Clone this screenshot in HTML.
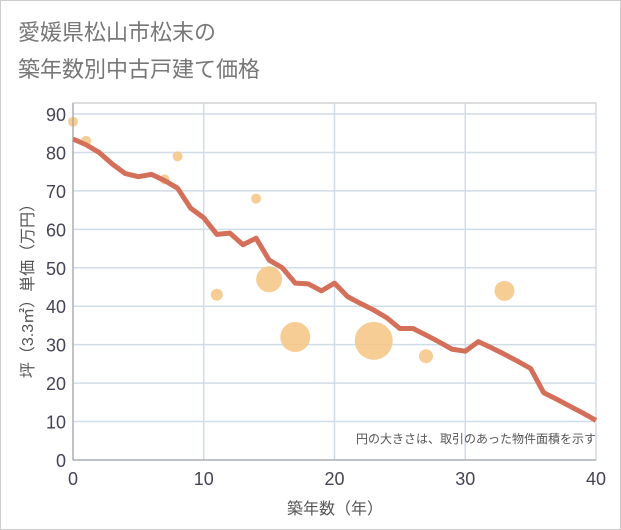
<!DOCTYPE html>
<html><head><meta charset="utf-8"><style>
body{margin:0;background:#fff;}
svg{display:block;font-family:"Liberation Sans","Noto Sans CJK JP",sans-serif;}
</style></head><body>
<svg width="621" height="530" viewBox="0 0 621 530">
<rect x="0.5" y="0.5" width="620" height="529" fill="#fff" stroke="#ccc"/>
<text x="18" y="40" font-size="22" fill="#777">愛媛県松山市松末の</text>
<text x="18" y="77" font-size="22" fill="#777">築年数別中古戸建て価格</text>
<g id="grid"></g>
<g id="bubbles"></g>
<polyline id="line" fill="none" stroke="#d4705a" stroke-width="5" stroke-linejoin="round"/>
<g id="axes"></g>
<text x="596" y="443" font-size="12" fill="#555" text-anchor="end">円の大きさは、取引のあった物件面積を示す</text>
<text x="335" y="514" font-size="16" fill="#555" text-anchor="middle">築年数（年）</text>
<text transform="translate(33,287) rotate(-90)" font-size="16" fill="#555" text-anchor="middle">坪（3.3㎡）単価（万円）</text>
</svg>
<script>
const lineYears=[0,1,2,3,4,5,6,7,8,9,10,11,12,13,14,15,16,17,18,19,20,21,22,23,24,25,26,27,28,29,30,31,32,33,34,35,36,37,38,39,40];
const lineValues=[83.5,82,80,77,74.5,73.7,74.3,72.7,70.7,65.5,63,58.7,59,56,57.7,52,50,46,45.8,44,46,42.5,40.7,39,37,34.2,34.2,32.5,30.7,28.8,28.3,30.8,29.2,27.5,25.7,23.8,17.5,15.8,14,12.2,10.3];
const bubbleYears=[0,1,7,8,11,14,15,17,23,27,33];
const bubbleValues=[88,83,73,79,43,68,47,32,31,27,44];
const bubbleRadii=[5,5,5,5,6,5,13,15,19,7,10];
const xTicks=[0,10,20,30,40];
const yTicks=[0,10,20,30,40,50,60,70,80,90];
const X0=73,X1=596,Y0=460,Y1=114;
const sx=v=>X0+(X1-X0)*v/40, sy=v=>Y0-(Y0-Y1)*v/90;
const NS="http://www.w3.org/2000/svg";
const mk=(t,a,p)=>{const e=document.createElementNS(NS,t);for(const k in a)e.setAttribute(k,a[k]);p.appendChild(e);return e;};
const grid=document.getElementById('grid'),axes=document.getElementById('axes');
mk('rect',{x:X0,y:103,width:X1-X0,height:Y0-103,fill:'none',stroke:'#bbb'},grid);
yTicks.forEach(t=>{const l=mk('line',{x1:X0,x2:X1,y1:sy(t),y2:sy(t),stroke:'#d0dce8','stroke-width':1.5},grid);


const tx=mk('text',{x:66,y:sy(t)+7,'font-size':18,fill:'#445','text-anchor':'end'},axes);tx.textContent=t;

});
xTicks.forEach(t=>{const l=mk('line',{x1:sx(t),x2:sx(t),y1:103,y2:Y0,stroke:'#d0dce8','stroke-width':1.5},grid);


const tx=mk('text',{x:sx(t),y:485,'font-size':18,fill:'#445','text-anchor':'middle'},axes);tx.textContent=t;

});
mk('line',{x1:X0,x2:X0,y1:103,y2:Y0,stroke:'#999'},axes);
mk('line',{x1:X0,x2:X1,y1:Y0,y2:Y0,stroke:'#999'},axes);
const bg=document.getElementById('bubbles');
bubbleYears.forEach((y,i)=>{const c=mk('circle',{cx:sx(y),cy:sy(bubbleValues[i]),r:bubbleRadii[i],fill:'#f5c582','fill-opacity':0.85},bg);

});
document.getElementById('line').setAttribute('points',lineYears.map((y,i)=>sx(y)+','+sy(lineValues[i])).join(' '));
</script>
</body></html>
